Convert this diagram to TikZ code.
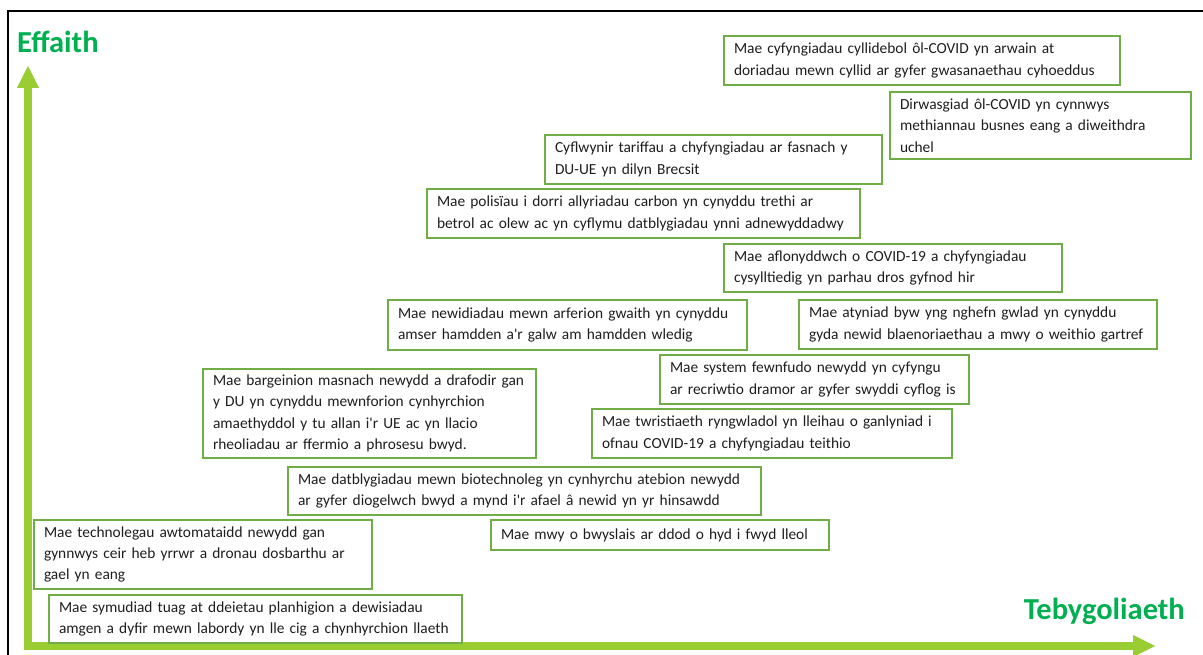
\documentclass[tikz,border=0pt]{standalone}
\usepackage{fontspec}
\newfontfamily\boxfont{Carlito}
\definecolor{boxgreen}{RGB}{112,173,71}
\definecolor{axisgreen}{RGB}{154,205,50}
\definecolor{labelgreen}{RGB}{0,176,80}
\definecolor{txtgray}{RGB}{30,30,30}
\tikzset{
  card/.style={draw=boxgreen, line width=2pt, fill=white, anchor=north west,
    align=left, inner xsep=10pt, inner ysep=0pt, text=txtgray,
    font=\boxfont\fontsize{15.4}{21.3}\selectfont},
  axislabel/.style={text=labelgreen, inner sep=0pt,
    font=\boxfont\bfseries\fontsize{30.5}{30.5}\selectfont},
  axisshaft/.style={draw=axisgreen, line width=8pt, line cap=butt},
  axishead/.style={fill=axisgreen},
  frameline/.style={draw=black, line width=2.3pt}
}
\begin{document}
\begin{tikzpicture}[x=1pt,y=-1pt]
\useasboundingbox (0,0) rectangle (1203,655);
% frame
\coordinate (frTR) at (1203,11);
\coordinate (frTL) at (8.3,11);
\coordinate (frBL) at (8.3,655);
\draw[frameline] (frTR) -- (frTL) -- (frBL);
% axes
\coordinate (vbase) at (28,650);
\coordinate (vhead) at (28,88);
\coordinate (vtip) at (28,66);
\coordinate (hbase) at (24,646);
\coordinate (hhead) at (1133,646);
\coordinate (htip) at (1155,646);
\draw[axisshaft] (vbase) -- (vhead);
\fill[axishead] (vtip) -- ([xshift=11pt]vhead) -- ([xshift=-11pt]vhead) -- cycle;
\draw[axisshaft] (hbase) -- (hhead);
\fill[axishead] (htip) -- ([yshift=11pt]hhead) -- ([yshift=-11pt]hhead) -- cycle;
\node[axislabel, anchor=base west] (effaith) at (17,53) {Effaith};
\node[axislabel, anchor=base east] (tebyg) at (1185,619) {Tebygoliaeth};
% boxes
\node[card, text width=376pt, minimum height=49pt] (A) at (723,35)
  {Mae cyfyngiadau cyllidebol ôl-COVID yn arwain at\\doriadau mewn cyllid ar gyfer gwasanaethau cyhoeddus};
\node[card, text width=281pt, minimum height=67pt] (B) at (889,91)
  {Dirwasgiad ôl-COVID yn cynnwys\\methiannau busnes eang a diweithdra\\uchel};
\node[card, text width=317pt, minimum height=49pt] (C) at (544,134)
  {Cyflwynir tariffau a chyfyngiadau ar fasnach y\\DU-UE yn dilyn Brecsit};
\node[card, text width=413pt, minimum height=49pt] (D) at (426,188)
  {Mae polisïau i dorri allyriadau carbon yn cynyddu trethi ar\\betrol ac olew ac yn cyflymu datblygiadau ynni adnewyddadwy};
\node[card, text width=318pt, minimum height=48pt] (E) at (723,243)
  {Mae aflonyddwch o COVID-19 a chyfyngiadau\\cysylltiedig yn parhau dros gyfnod hir};
\node[card, text width=339pt, minimum height=50pt] (F) at (387,299)
  {Mae newidiadau mewn arferion gwaith yn cynyddu\\amser hamdden a'r galw am hamdden wledig};
\node[card, text width=338pt, minimum height=49pt] (G) at (798,299)
  {Mae atyniad byw yng nghefn gwlad yn cynyddu\\gyda newid blaenoriaethau a mwy o weithio gartref};
\node[card, text width=289pt, minimum height=49pt] (H) at (659,354)
  {Mae system fewnfudo newydd yn cyfyngu\\ar recriwtio dramor ar gyfer swyddi cyflog is};
\node[card, text width=340pt, minimum height=49pt] (I) at (591,408)
  {Mae twristiaeth ryngwladol yn lleihau o ganlyniad i\\ofnau COVID-19 a chyfyngiadau teithio};
\node[card, text width=313pt, minimum height=89pt] (J) at (202,368)
  {Mae bargeinion masnach newydd a drafodir gan\\y DU yn cynyddu mewnforion cynhyrchion\\amaethyddol y tu allan i'r UE ac yn llacio\\rheoliadau ar ffermio a phrosesu bwyd.};
\node[card, text width=453pt, minimum height=48pt] (K) at (287,466)
  {Mae datblygiadau mewn biotechnoleg yn cynhyrchu atebion newydd\\ar gyfer diogelwch bwyd a mynd i'r afael â newid yn yr hinsawdd};
\node[card, text width=318pt, minimum height=30pt] (L) at (490,519)
  {Mae mwy o bwyslais ar ddod o hyd i fwyd lleol};
\node[card, text width=318pt, minimum height=69pt] (M) at (33,519)
  {Mae technolegau awtomataidd newydd gan\\gynnwys ceir heb yrrwr a dronau dosbarthu ar\\gael yn eang};
\node[card, text width=393pt, minimum height=48pt] (N) at (48,594)
  {Mae symudiad tuag at ddeietau planhigion a dewisiadau\\amgen a dyfir mewn labordy yn lle cig a chynhyrchion llaeth};
\end{tikzpicture}
\end{document}
